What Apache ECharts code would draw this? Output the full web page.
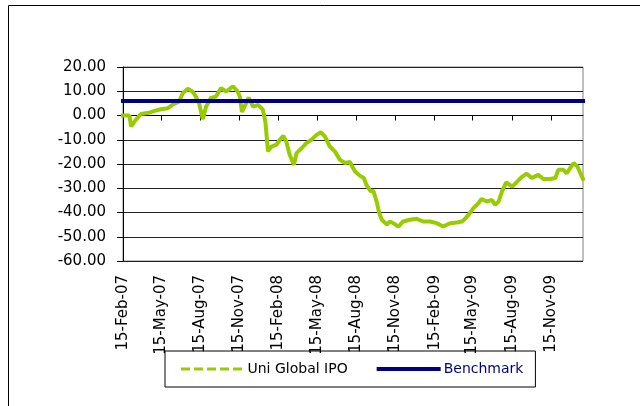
<!DOCTYPE html>
<html>
<head>
<meta charset="utf-8">
<script src="https://cdn.jsdelivr.net/npm/echarts@6/dist/echarts.min.js"></script>
<style>
html,body{margin:0;padding:0;background:#fff;}
#chart{width:640px;height:406px;}
</style>
</head>
<body>
<div id="chart"></div>
<script>
// ---- data ----
const ipoDates = ['2007-02-15','2007-03-02','2007-03-06','2007-03-17','2007-03-29','2007-04-14','2007-04-30','2007-05-15','2007-05-31','2007-06-11',
'2007-06-27','2007-07-05','2007-07-17','2007-07-28','2007-08-05','2007-08-13','2007-08-21','2007-08-29','2007-09-09','2007-09-21',
'2007-10-03','2007-10-15','2007-10-31','2007-11-04','2007-11-11','2007-11-16','2007-11-21','2007-11-27','2007-12-07','2007-12-17',
'2007-12-29','2008-01-09','2008-01-15','2008-01-17','2008-01-21','2008-01-29','2008-02-10','2008-02-18','2008-02-26','2008-03-04',
'2008-03-12','2008-03-22','2008-03-28','2008-04-09','2008-04-20','2008-05-02','2008-05-14','2008-05-24','2008-06-03','2008-06-14',
'2008-06-26','2008-07-08','2008-07-20','2008-07-31','2008-08-12','2008-08-24','2008-09-02','2008-09-08','2008-09-18','2008-09-24',
'2008-10-02','2008-10-08','2008-10-14','2008-10-26','2008-11-02','2008-11-10','2008-11-22','2008-12-03','2008-12-19','2009-01-04',
'2009-01-19','2009-02-04','2009-02-20','2009-03-07','2009-03-23','2009-04-08','2009-04-20','2009-04-27','2009-05-05','2009-05-17',
'2009-05-29','2009-06-05','2009-06-17','2009-06-29','2009-07-07','2009-07-15','2009-07-23','2009-08-02','2009-08-16','2009-08-28',
'2009-09-07','2009-09-19','2009-10-01','2009-10-16','2009-10-28','2009-11-13','2009-11-25','2009-12-02','2009-12-14','2009-12-22',
'2009-12-30','2010-01-07','2010-01-16','2010-01-22','2010-01-29'];
const ipoValues = [0,0,-4.5,-1.8,0.6,1,1.9,2.6,3,4.4,
5.8,9.2,11,9.9,7.8,4.7,-1.5,3.7,7.2,7.8,
11.3,9.9,12,11.3,9.9,7.8,1.5,3.7,7.4,3.7,
4.4,2.4,-2.5,-6.6,-14.8,-12.8,-12,-10,-8.4,-10.7,
-16.2,-20.3,-15.5,-13.5,-11.4,-10,-8,-6.9,-8.7,-12.8,
-14.8,-18.3,-19.6,-19.2,-23,-24.9,-25.8,-28.6,-31.3,-31,
-35.5,-40.2,-43,-45,-43.7,-44.4,-45.8,-43.7,-43,-42.6,
-43.7,-43.7,-44.4,-45.8,-44.4,-44.1,-43.7,-42.7,-41,-38.2,
-36.1,-34.4,-35.5,-34.8,-36.8,-35.5,-31.3,-27.6,-29.3,-27.2,
-25.4,-24,-25.8,-24.5,-26.2,-26.2,-25.8,-22.4,-22.4,-23.8,
-21.7,-19.6,-21,-23.5,-26.2];
const benchmarkDates = ['2007-02-15','2010-01-29'];
const benchmarkValues = [6, 6];
const tickDates = ['2007-02-15','2007-05-15','2007-08-15','2007-11-15','2008-02-15','2008-05-15','2008-08-15','2008-11-15','2009-02-15','2009-05-15','2009-08-15','2009-11-15'];
const tickLabels = ['15-Feb-07','15-May-07','15-Aug-07','15-Nov-07','15-Feb-08','15-May-08','15-Aug-08','15-Nov-08','15-Feb-09','15-May-09','15-Aug-09','15-Nov-09'];
const seriesNames = ['Uni Global IPO','Benchmark'];
const xMin = '2007-02-15';
const xMax = '2010-01-29';
const yMin = -60, yMax = 20, yStep = 10;

// ---- build ----
function ts(s){ const p = s.split('-'); return Date.UTC(+p[0], +p[1]-1, +p[2]); }
const tickTs = tickDates.map(ts);
function labelFor(v, i){
  for (let k = 0; k < tickTs.length; k++) { if (Math.abs(tickTs[k] - v) < 3600000) return tickLabels[k]; }
  return '';
}
const ipoData = ipoDates.map((d,i)=>[ts(d), ipoValues[i]]);
const benchData = benchmarkDates.map((d,i)=>[ts(d), benchmarkValues[i]]);

const FONT = 'DejaVu Sans';
const chart = echarts.init(document.getElementById('chart'), null, {renderer:'canvas'});
chart.setOption({
  animation: false,
  backgroundColor: '#fff',
  textStyle: {fontFamily: FONT},
  grid: {left: 123, top: 67, width: 460, height: 194, show: true, borderColor: '#808080', borderWidth: 1, backgroundColor: 'transparent'},
  xAxis: [{
    type: 'value', min: ts(xMin), max: ts(xMax), position: 'bottom', scale: true,
    axisLine: {show: true, onZero: true, lineStyle: {color: '#000', width: 1}},
    axisTick: {show: true, length: 5, customValues: tickTs, lineStyle: {color: '#000'}},
    axisLabel: {show: false},
    splitLine: {show: false}
  }, {
    type: 'value', min: ts(xMin), max: ts(xMax), position: 'bottom', scale: true,
    axisLine: {show: false, onZero: false},
    axisTick: {show: false},
    splitLine: {show: false},
    axisLabel: {
      show: true, rotate: 90, margin: 14, customValues: tickTs,
      fontFamily: FONT, fontSize: 15, color: '#000',
      formatter: labelFor
    }
  }],
  yAxis: {
    type: 'value', min: yMin, max: yMax, interval: yStep,
    axisLine: {show: true, onZero: false, lineStyle: {color: '#000', width: 1}},
    axisTick: {show: true, length: 6, lineStyle: {color: '#000'}},
    axisLabel: {fontFamily: FONT, fontSize: 15, color: '#000', margin: 17, formatter: v => v.toFixed(2)},
    splitLine: {show: true, lineStyle: {color: '#222', width: 1}}
  },
  legend: {
    left: 165, top: 351,
    padding: [11, 12, 11, 16],
    itemWidth: 60, itemHeight: 14, itemGap: 29,
    borderColor: '#000', borderWidth: 1,
    textStyle: {fontFamily: FONT, fontSize: 14, color: '#000'},
    data: [
      {name: seriesNames[0], lineStyle: {color: '#99cc00', width: 3, type: [6, 7]}, itemStyle: {opacity: 0}, textStyle: {color: '#000'}},
      {name: seriesNames[1], lineStyle: {color: '#000080', width: 4, type: 'solid'}, itemStyle: {opacity: 0}, textStyle: {color: '#000080'}}
    ]
  },
  graphic: [{
    type: 'rect', silent: true, z: -1,
    shape: {x: 8.5, y: 5.5, width: 700, height: 500},
    style: {fill: 'none', stroke: '#000', lineWidth: 1}
  }],
  series: [{
    name: seriesNames[0], type: 'line', xAxisIndex: 0, data: ipoData,
    symbol: 'none', showSymbol: false, clip: false,
    lineStyle: {color: '#99cc00', width: 4, cap: 'square', join: 'bevel'},
    itemStyle: {color: '#99cc00'}
  }, {
    name: seriesNames[1], type: 'line', xAxisIndex: 0, data: benchData,
    symbol: 'none', showSymbol: false, clip: false,
    lineStyle: {color: '#000080', width: 4, cap: 'square'},
    itemStyle: {color: '#000080'}
  }]
});
</script>
</body>
</html>
